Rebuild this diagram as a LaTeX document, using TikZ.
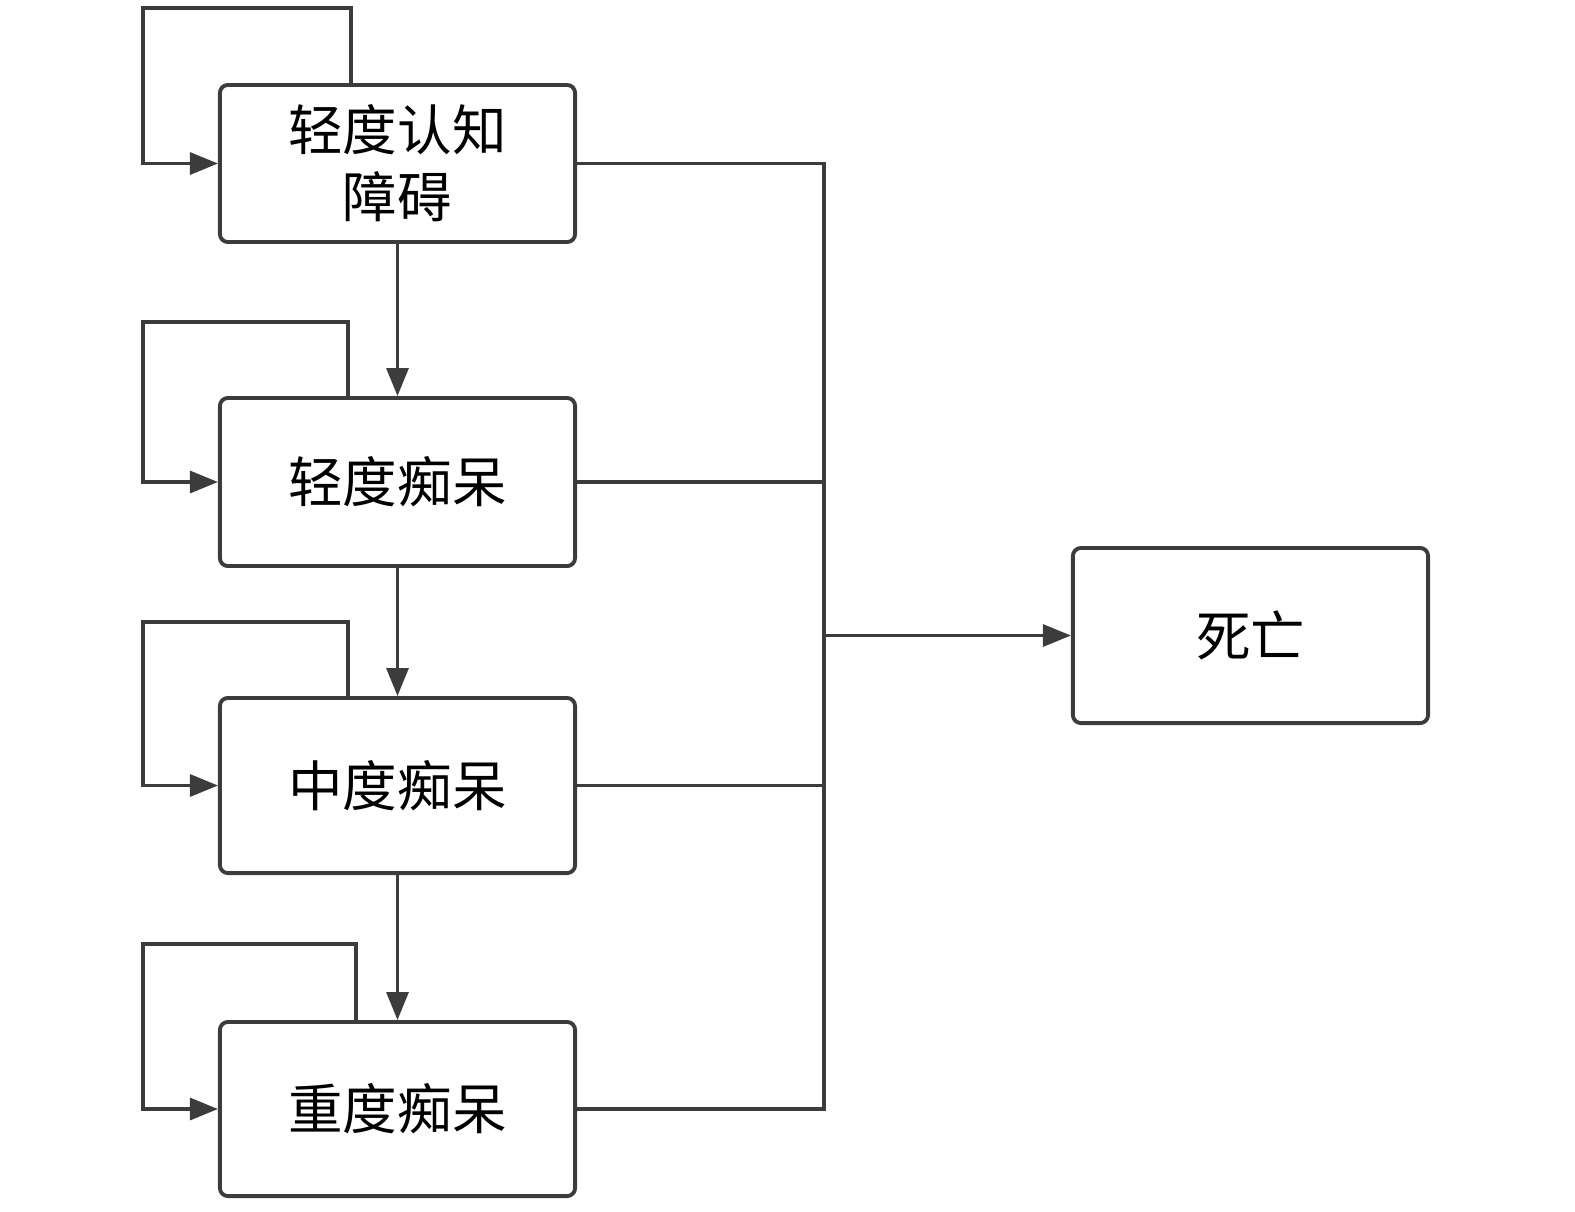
\documentclass[tikz,border=0pt]{standalone}
\usepackage{fontspec}
\newfontfamily\cjk{Noto Sans CJK SC}
\usetikzlibrary{arrows.meta}
\definecolor{trait}{HTML}{3C3C3C}
\begin{document}
\begin{tikzpicture}[x=0.01cm,y=-0.01cm]
% définition des styles
\tikzstyle{boite}=[rectangle,draw=trait,line width=1.1pt,rounded corners=0.08cm,minimum width=3.55cm,align=center,font=\cjk\fontsize{15.5}{19}\selectfont,inner sep=0pt]
\tikzstyle{ligne}=[draw=trait,line width=0.9pt]
\tikzstyle{fleche}=[ligne,-{Triangle[length=0.28cm,width=0.22cm]}]
\useasboundingbox (0,0) rectangle (1575,1211);
% les nœuds
\node[boite,minimum height=1.57cm] (MCI) at (397.5,163.5) {轻度认知\\障碍};
\node[boite,minimum height=1.68cm] (LD) at (397.5,482) {轻度痴呆};
\node[boite,minimum height=1.75cm] (MD) at (397.5,785.5) {中度痴呆};
\node[boite,minimum height=1.74cm] (SD) at (397.5,1109) {重度痴呆};
\node[boite,minimum height=1.75cm] (DC) at (1250.5,635.5) {死亡};
\coordinate (bus) at (824,635.5);
% les flèches
\draw[fleche] (MCI)--(LD);
\draw[fleche] (LD)--(MD);
\draw[fleche] (MD)--(SD);
\foreach \n/\xr/\yh in {MCI/351/8,LD/348/322,MD/348/622,SD/356/944}
  \draw[fleche] (\n.north -| \xr,0) |- (143,\yh) |- (\n.west);
\foreach \n in {MCI,LD,MD,SD}
  \draw[ligne] (\n.east) -| (bus);
\draw[fleche] (bus)--(DC);
\end{tikzpicture}
\end{document}
